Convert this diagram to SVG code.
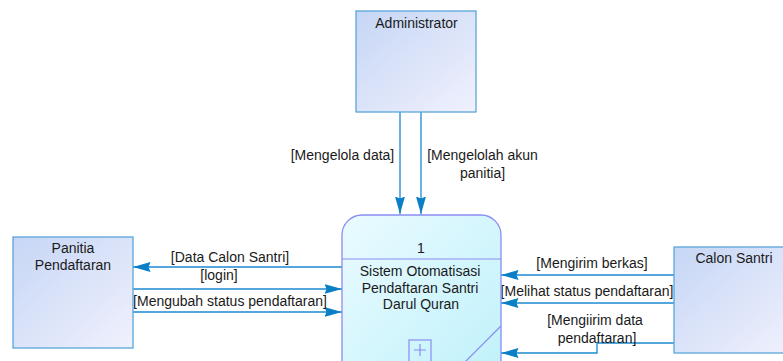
<svg xmlns="http://www.w3.org/2000/svg" width="783" height="361" viewBox="0 0 783 361">
<style>
.ent{stroke:#5aa6da;stroke-width:1.3;fill:url(#gEnt)}
.proc{stroke:#8a8cf2;stroke-width:1.3;fill:url(#gProc)}
.pl{stroke:#8a8cf2;stroke-width:1.2;fill:none}
.t{font-family:"Liberation Sans",Arial,sans-serif;font-size:14px;fill:#1a1a1a;text-anchor:middle}
.c{fill:none;stroke:#1a8ad0;stroke-width:1.3}
</style>
<defs>
<linearGradient id="gEnt" x1="0" y1="0" x2="1" y2="1">
<stop offset="0" stop-color="#c6d6f5"/>
<stop offset="1" stop-color="#f0f1fd"/>
</linearGradient>
<linearGradient id="gProc" x1="0" y1="0" x2="1" y2="1">
<stop offset="0" stop-color="#eafbff"/>
<stop offset="1" stop-color="#bff1fb"/>
</linearGradient>
<marker id="ah" markerUnits="userSpaceOnUse" markerWidth="20" markerHeight="12" refX="17.5" refY="5" orient="auto">
<path d="M0,0 L17.5,5 L0,10 L2,5 Z" fill="#0a7fc6"/>
</marker>
</defs>

<g id="connectors">
<path class="c" d="M400,112 V214" marker-end="url(#ah)"/>
<path class="c" d="M421,112 V214" marker-end="url(#ah)"/>
<path class="c" d="M342,267 H133" marker-end="url(#ah)"/>
<path class="c" d="M133,289 H342" marker-end="url(#ah)"/>
<path class="c" d="M133,312 H342" marker-end="url(#ah)"/>
<path class="c" d="M674,275 H501" marker-end="url(#ah)"/>
<path class="c" d="M674,303 H501" marker-end="url(#ah)"/>
<path class="c" d="M674,343 H597 V353 H501" marker-end="url(#ah)"/>
<text class="t" x="342.5" y="159.5">[Mengelola data]</text>
<text class="t" x="482.5" y="159.5">[Mengelolah akun</text>
<text class="t" x="482.5" y="177.5">panitia]</text>
<text class="t" x="230" y="261.5">[Data Calon Santri]</text>
<text class="t" x="219" y="280">[login]</text>
<text class="t" x="230" y="305.5">[Mengubah status pendaftaran]</text>
<text class="t" x="592" y="268">[Mengirim berkas]</text>
<text class="t" x="587" y="295.5">[Melihat status pendaftaran]</text>
<text class="t" x="595" y="324.5">[Mengiirim data</text>
<text class="t" x="597" y="343">pendaftaran]</text>
</g>

<g id="administrator">
<rect class="ent" x="356" y="11" width="120" height="101"/>
<text class="t" x="416.5" y="28">Administrator</text>
</g>

<g id="panitia-pendaftaran">
<rect class="ent" x="13" y="237" width="120" height="111"/>
<text class="t" x="73" y="253">Panitia</text>
<text class="t" x="73" y="270">Pendaftaran</text>
</g>

<g id="calon-santri">
<rect class="ent" x="674" y="247" width="120" height="106"/>
<text class="t" x="734" y="263">Calon Santri</text>
</g>

<g id="process-1">
<rect class="proc" x="342" y="215" width="159" height="170" rx="20" ry="20"/>
<line class="pl" x1="342" y1="259" x2="501" y2="259"/>
<line class="pl" x1="501" y1="326" x2="460" y2="367"/>
<rect class="pl" x="409" y="340" width="22" height="30"/>
<path class="pl" d="M420,344 V356 M414,350 H426" stroke="#a0a2f4"/>
<text class="t" x="421" y="253">1</text>
<text class="t" x="420" y="276">Sistem Otomatisasi</text>
<text class="t" x="420" y="292.5">Pendaftaran Santri</text>
<text class="t" x="421" y="309">Darul Quran</text>
</g>
</svg>
